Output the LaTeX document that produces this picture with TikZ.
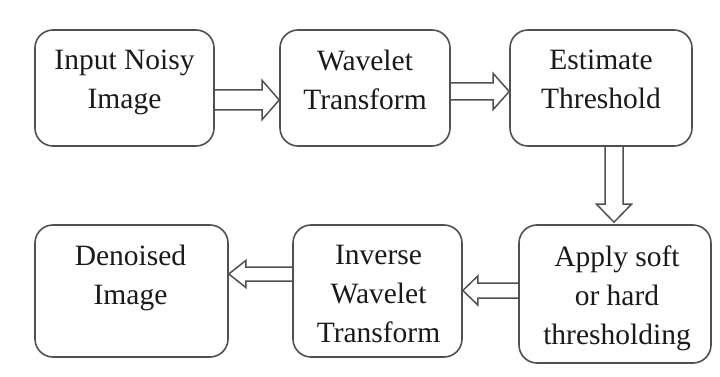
\documentclass[tikz,border=0pt]{standalone}
\usepackage{fontspec}
\setmainfont{Liberation Serif}
\usetikzlibrary{calc}
\definecolor{linec}{HTML}{505050}
\definecolor{textc}{HTML}{1A1A1A}
\newcommand\hollowarrow[5]{%
  \coordinate (hA) at #1;
  \coordinate (hB) at #2;
  \coordinate (hH) at ($(hB)!#5!(hA)$);
  \draw[arrowline] ($(hA)!#3!90:(hB)$) -- ($(hH)!#3!90:(hB)$) -- ($(hH)!#4!90:(hB)$) -- (hB)
    -- ($(hH)!#4!-90:(hB)$) -- ($(hH)!#3!-90:(hB)$) -- ($(hA)!#3!-90:(hB)$);
}
\begin{document}
\begin{tikzpicture}[x=1pt,y=-1pt,
  box/.style={draw=linec, line width=1.6pt, rounded corners=18pt, inner sep=0pt},
  txt/.style={anchor=north, inner sep=0pt, align=center, text=textc,
    font=\fontsize{29.5}{39}\selectfont},
  arrowline/.style={draw=linec, line width=1.5pt, line join=miter}]
\useasboundingbox (0,0) rectangle (720,377);
\node[box, minimum width=179pt, minimum height=116pt] (b1) at (124.5,88) {};
\node[box, minimum width=170pt, minimum height=116pt] (b2) at (365,88) {};
\node[box, minimum width=182pt, minimum height=116pt] (b3) at (601,88) {};
\node[box, minimum width=192pt, minimum height=138pt] (b4) at (615,294) {};
\node[box, minimum width=169pt, minimum height=132pt] (b5) at (377.5,291) {};
\node[box, minimum width=193pt, minimum height=132pt] (b6) at (131.5,291) {};
\node[txt] (t1) at ($(b1.north)+(0,21)$) {Input Noisy\\Image};
\node[txt] (t2) at ($(b2.north)+(0,21)$) {Wavelet\\Transform};
\node[txt] (t3) at ($(b3.north)+(0,21)$) {Estimate\\Threshold};
\node[txt] (t4) at ($(b4.north)+(2,21)$) {Apply soft\\or hard\\thresholding};
\node[txt] (t5) at ($(b5.north)+(1,21)$) {Inverse\\Wavelet\\Transform};
\node[txt] (t6) at ($(b6.north)+(-1,21)$) {Denoised\\Image};
\hollowarrow{($(b1.east)+(0,12)$)}{($(b2.west)+(0,12)$)}{10pt}{19.5pt}{17pt}
\hollowarrow{($(b2.east)+(0,3.5)$)}{($(b3.west)+(0,3.5)$)}{8.5pt}{18pt}{16pt}
\hollowarrow{($(b3.south)+(13,0)$)}{($(b4.north)+(-1,-2)$)}{9pt}{17.5pt}{18pt}
\hollowarrow{($(b4.west)+(0,-3.5)$)}{($(b5.east)+(0,-0.5)$)}{7.5pt}{14.5pt}{15pt}
\hollowarrow{($(b5.west)+(0,-17)$)}{($(b6.east)+(0,-17)$)}{7pt}{13.5pt}{17pt}
\end{tikzpicture}
\end{document}
